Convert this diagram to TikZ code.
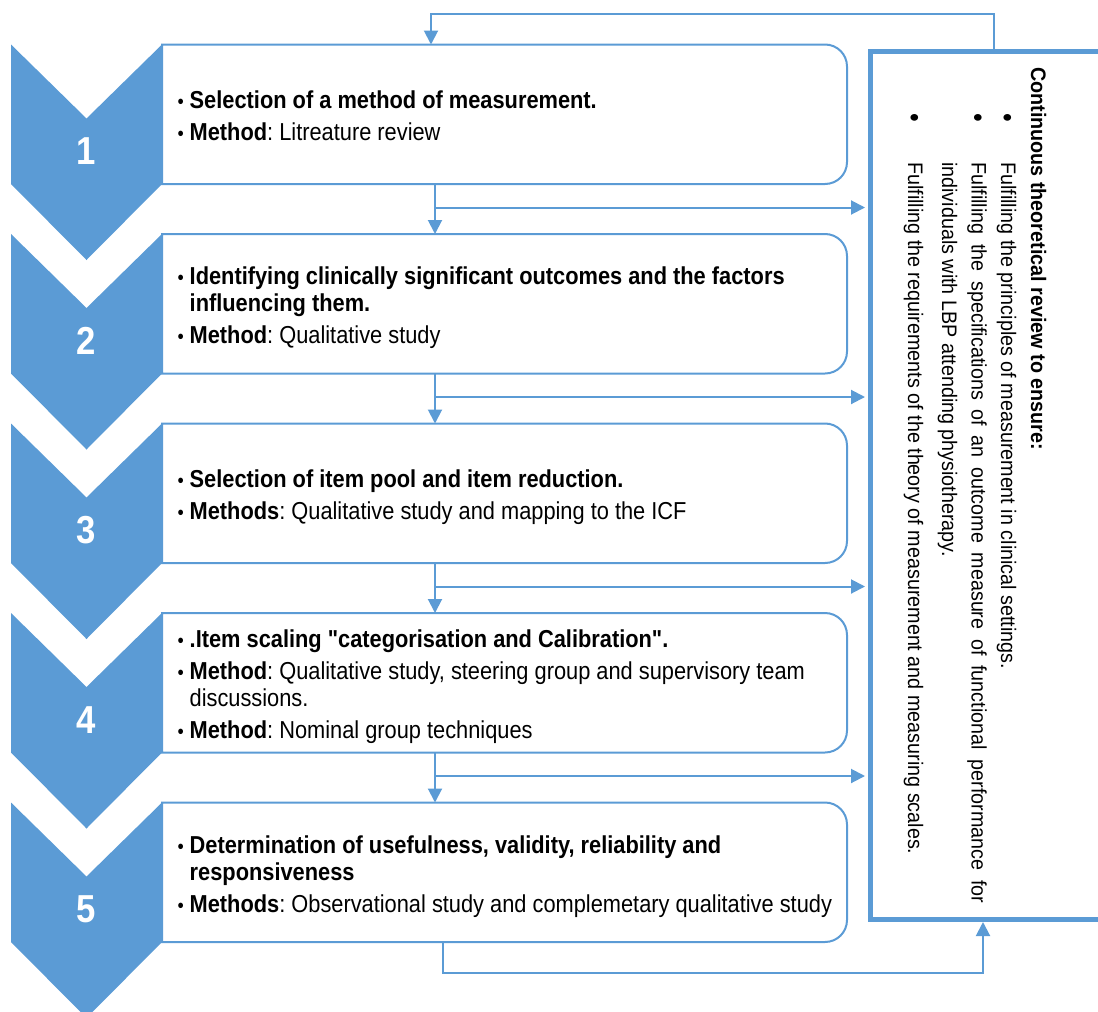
\documentclass[tikz,border=0pt]{standalone}
\usepackage{fontspec}
\setmainfont{Liberation Sans}[FakeStretch=0.89]
\newfontfamily\panelfont{Liberation Sans}[FakeStretch=0.94]
\newfontfamily\quotefont{Liberation Sans}[FakeStretch=0.89, Ligatures=TeXOff]
\usetikzlibrary{arrows.meta,calc}
\definecolor{flowblue}{HTML}{5B9BD5}
\frenchspacing

% small bullet used inside the step boxes
\newcommand\itm{\makebox[12pt][l]{\fontsize{20}{20}\selectfont\textbullet}}
% straight double quote
\newcommand\sq{{\quotefont\bfseries"}}
% step box: square on the left, rounded on the right
\newcommand\roundedbox[1]{%
  \draw[boxline] (#1.north west) -- ($(#1.north east)+(-22,0)$)
    .. controls +(12.2,0) and +(0,-12.2) .. ($(#1.north east)+(0,22)$)
    -- ($(#1.south east)+(0,-22)$)
    .. controls +(0,12.2) and +(12.2,0) .. ($(#1.south east)+(-22,0)$)
    -- (#1.south west) -- cycle;}

\tikzset{
  chev/.style={fill=flowblue},
  stepnum/.style={text=white, inner sep=0, font=\fontsize{39}{39}\selectfont\bfseries},
  boxarea/.style={minimum width=685pt, minimum height=139.5pt, inner sep=0, outer sep=0},
  boxline/.style={draw=flowblue, line width=2pt},
  boxtext/.style={anchor=base west, inner sep=0, font=\fontsize{24.5}{27}\selectfont},
  flow/.style={draw=flowblue, line width=2pt, -{Triangle[length=14pt,width=14pt]}},
  panelbox/.style={draw=flowblue, line width=5pt, fill=white, inner sep=0, outer sep=0,
    minimum width=255pt, minimum height=868pt},
  paneltext/.style={rotate=-90, anchor=base west, inner sep=0, font=\panelfont\fontsize{21}{21}\selectfont},
  panelbul/.style={rotate=-90, anchor=base, inner sep=0, font=\fontsize{28}{28}\selectfont},
}

\begin{document}
\begin{tikzpicture}[x=1pt, y=-1pt]
\useasboundingbox (0,0) rectangle (1098,1012);

% chevrons, numbers and step boxes
\foreach \k/\t in {1/44.5, 2/234, 3/423.5, 4/613, 5/802.5}{
  \fill[chev] (11,\t) -- (86.5,\t+74) -- (162,\t) -- (162,\t+139.5)
     -- (86.5,\t+215.5) -- (11,\t+139.5) -- cycle;
  \node[stepnum] (n\k) at (86.5,\t+107) {\k};
  \node[boxarea] (b\k) at (504.5,\t+69.75) {};
  \roundedbox{b\k}
}

% step texts
\node[boxtext] (t1) at ($(b1.north west)+(15.5,63.5)$) {\vtop{%
  \hbox{\itm\textbf{Selection of a method of measurement.}}\vskip5pt
  \hbox{\itm\textbf{Method}: Litreature review}}};
\node[boxtext] (t2) at ($(b2.north west)+(15.5,50.5)$) {\vtop{%
  \hbox{\itm\textbf{Identifying clinically significant outcomes and the factors}}
  \hbox{\hspace*{12pt}\textbf{influencing them.}}\vskip5pt
  \hbox{\itm\textbf{Method}: Qualitative study}}};
\node[boxtext] (t3) at ($(b3.north west)+(15.5,64)$) {\vtop{%
  \hbox{\itm\textbf{Selection of item pool and item reduction.}}\vskip5pt
  \hbox{\itm\textbf{Methods}: Qualitative study and mapping to the ICF}}};
\node[boxtext] (t4) at ($(b4.north west)+(15.5,34)$) {\vtop{%
  \hbox{\itm\textbf{.Item scaling \sq categorisation and Calibration\sq.}}\vskip5pt
  \hbox{\itm\textbf{Method}: Qualitative study, steering group and supervisory team}
  \hbox{\hspace*{12pt}discussions.}\vskip5pt
  \hbox{\itm\textbf{Method}: Nominal group techniques}}};
\node[boxtext] (t5) at ($(b5.north west)+(15.5,50.5)$) {\vtop{%
  \hbox{\itm\textbf{Determination of usefulness, validity, reliability and}}
  \hbox{\hspace*{12pt}\textbf{responsiveness}}\vskip5pt
  \hbox{\itm\textbf{Methods}: Observational study and complemetary qualitative study}}};

% review panel
\node[panelbox] (panel) at (997.5,485.5) {};
\node[paneltext, font=\panelfont\fontsize{21}{21}\selectfont\bfseries] (ptitle) at (1031,67)
  {Continuous theoretical review to ensure:};
\node[panelbul] (pb1) at (998,118) {\textbullet};
\node[panelbul] (pb2) at (968.5,118) {\textbullet};
\node[panelbul] (pb3) at (905,118) {\textbullet};
\node[paneltext] (pl1) at (1001,162)
  {Fulfilling the principles of measurement in clinical settings.};
\node[paneltext] (pl2) at (971.5,162)
  {\makebox[741pt][s]{Fulfilling the specifications of an outcome measure of functional performance for}};
\node[paneltext] (pl3) at (942,162)
  {individuals with LBP attending physiotherapy.};
\node[paneltext] (pl4) at (908,162)
  {Fulfilling the requirements of the theory of measurement and measuring scales.};

% flow between steps, each also feeding the review panel
\foreach \a/\b in {1/2, 2/3, 3/4, 4/5}{
  \draw[flow] ([xshift=273pt]b\a.south west) -- ([xshift=273pt]b\b.north west);
  \coordinate (j\a) at ($(b\a.south west)+(273,23.5)$);
  \draw[flow, shorten >=5pt] (j\a) -- (j\a -| panel.west);
}

% feedback loops around the review panel
\draw[flow] ([xshift=-3.5pt]panel.north) -- ++(0,-37.5) -| ([xshift=269pt]b1.north west);
\draw[flow, shorten >=2.5pt] ([xshift=281pt]b5.south west) -- ++(0,31) -| ([xshift=-14.5pt]panel.south);
\end{tikzpicture}
\end{document}
